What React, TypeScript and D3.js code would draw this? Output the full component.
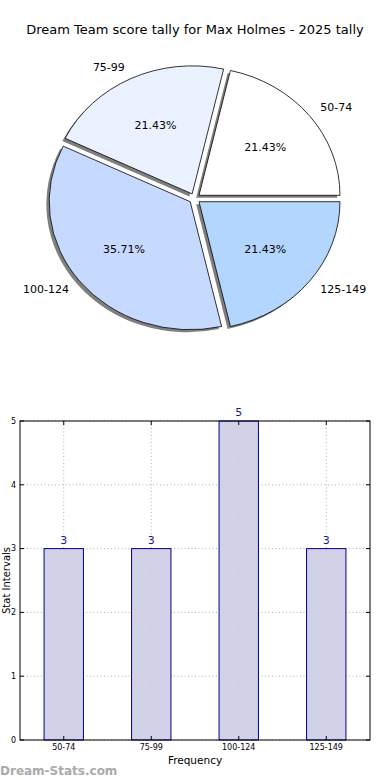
import React from 'react';
import * as d3 from 'd3';

const title = 'Dream Team score tally for Max Holmes - 2025 tally';
const categories = ['50-74', '75-99', '100-124', '125-149'];
const counts = [3, 3, 5, 3];
const sliceColors = ['#ffffff', '#ebf2ff', '#c6d9ff', '#b3d6ff'];
const yTicks = [0, 1, 2, 3, 4, 5];

const font = '"DejaVu Sans", sans-serif';

const App = () => {
  const width = 390;
  const height = 780;

  // pie: matplotlib-style, starts at 3 o'clock and goes counterclockwise,
  // axes not equal so it comes out as an ellipse
  const cx = 194.6;
  const cy = 198.5;
  const rx = 141;
  const ry = 128;
  const explode = 0.04;

  const total = d3.sum(counts);
  const pie = d3.pie<number>().sort(null).startAngle(Math.PI / 2).endAngle(Math.PI / 2 - 2 * Math.PI);
  const arcs = pie(counts);
  const arc = d3.arc<d3.PieArcDatum<number>>().innerRadius(0).outerRadius(1);

  // d3 angle -> unit vector (svg coords)
  const dir = (a: number) => [Math.sin(a), -Math.cos(a)];

  // bar chart
  const marginLeft = 20;
  const marginRight = 20;
  const plotTop = 421;
  const plotBottom = 740;

  const x = d3.scaleBand<string>()
    .domain(categories)
    .range([marginLeft, width - marginRight])
    .paddingInner(0.55)
    .paddingOuter(0.275);

  const y = d3.scaleLinear().domain([0, 5]).range([plotBottom, plotTop]);

  return (
    <svg width={width} height={height} style={{ position: 'absolute', left: 0, top: 0, background: '#fff' }}>
      <text x={195} y={34} textAnchor="middle" fontFamily={font} fontSize={13} fill="#000">{title}</text>

      {/* shadows */}
      <g transform={`translate(${cx},${cy}) scale(${rx},${ry})`}>
        {arcs.map((d, i) => {
          const m = (d.startAngle + d.endAngle) / 2;
          const [ux, uy] = dir(m);
          return (
            <path
              key={'s' + i}
              d={arc(d) ?? ''}
              transform={`translate(${ux * explode - 0.02},${uy * explode + 0.02})`}
              fill="#000"
              fillOpacity={0.5}
            />
          );
        })}
        {arcs.map((d, i) => {
          const m = (d.startAngle + d.endAngle) / 2;
          const [ux, uy] = dir(m);
          return (
            <path
              key={'p' + i}
              d={arc(d) ?? ''}
              transform={`translate(${ux * explode},${uy * explode})`}
              fill={sliceColors[i]}
              stroke="#000"
              strokeWidth={0.8}
              vectorEffect="non-scaling-stroke"
              strokeLinejoin="round"
            />
          );
        })}
      </g>

      {/* labels */}
      {arcs.map((d, i) => {
        const m = (d.startAngle + d.endAngle) / 2;
        const [ux, uy] = dir(m);
        const ox = cx + ux * explode * rx;
        const oy = cy + uy * explode * ry;
        const lx = ox + ux * 1.1 * rx;
        const ly = oy + uy * 1.1 * ry;
        const px = ox + ux * 0.6 * rx;
        const py = oy + uy * 0.6 * ry;
        return (
          <g key={'l' + i} fontFamily={font} fontSize={11} fill="#000">
            <text x={lx} y={ly} dy="0.35em" textAnchor={ux > 0 ? 'start' : 'end'}>{categories[i]}</text>
            <text x={px} y={py} dy="0.35em" textAnchor="middle">
              {((counts[i] / total) * 100).toFixed(2)}%
            </text>
          </g>
        );
      })}

      {/* bar chart grid */}
      <g stroke="#b0b0b0" strokeWidth={1} strokeDasharray="1,2.5">
        {yTicks.map(t => (
          <line key={'gy' + t} x1={marginLeft} x2={width - marginRight} y1={y(t)} y2={y(t)} />
        ))}
        {categories.map(c => {
          const xc = (x(c) ?? 0) + x.bandwidth() / 2;
          return <line key={'gx' + c} x1={xc} x2={xc} y1={plotTop} y2={plotBottom} />;
        })}
      </g>

      {/* bars */}
      {categories.map((c, i) => (
        <g key={'b' + c}>
          <rect
            x={x(c)}
            y={y(counts[i])}
            width={x.bandwidth()}
            height={y(0) - y(counts[i])}
            fill="#cccce6"
            fillOpacity={0.9}
            stroke="#00008b"
            strokeWidth={1}
          />
          <text
            x={(x(c) ?? 0) + x.bandwidth() / 2}
            y={y(counts[i]) - 5}
            textAnchor="middle"
            fontFamily={font}
            fontSize={11}
            fill="#1a1a8c"
          >
            {counts[i]}
          </text>
        </g>
      ))}

      {/* frame and ticks */}
      <rect x={marginLeft} y={plotTop} width={width - marginLeft - marginRight} height={plotBottom - plotTop} fill="none" stroke="#000" strokeWidth={1} />
      <g stroke="#000" strokeWidth={1}>
        {yTicks.map(t => (
          <g key={'ty' + t}>
            <line x1={marginLeft} x2={marginLeft + 4} y1={y(t)} y2={y(t)} />
            <line x1={width - marginRight - 4} x2={width - marginRight} y1={y(t)} y2={y(t)} />
          </g>
        ))}
        {categories.map(c => {
          const xc = (x(c) ?? 0) + x.bandwidth() / 2;
          return (
            <g key={'tx' + c}>
              <line x1={xc} x2={xc} y1={plotBottom} y2={plotBottom - 4} />
              <line x1={xc} x2={xc} y1={plotTop} y2={plotTop + 4} />
            </g>
          );
        })}
      </g>
      <g fontFamily={font} fontSize={8} fill="#000">
        {yTicks.map(t => (
          <text key={'yl' + t} x={marginLeft - 4} y={y(t)} dy="0.35em" textAnchor="end">{t}</text>
        ))}
        {categories.map(c => (
          <text key={'xl' + c} x={(x(c) ?? 0) + x.bandwidth() / 2} y={plotBottom + 10} textAnchor="middle">{c}</text>
        ))}
      </g>

      <text x={(marginLeft + width - marginRight) / 2} y={764} textAnchor="middle" fontFamily={font} fontSize={10.5} fill="#000">Frequency</text>
      <text transform={`translate(10,${(plotTop + plotBottom) / 2}) rotate(-90)`} textAnchor="middle" fontFamily={font} fontSize={10} fill="#000">Stat Intervals</text>

      <text x={0} y={775} fontFamily={font} fontSize={12} fontWeight="bold" fill="#aaaaaa">Dream-Stats.com</text>
    </svg>
  );
};

export default App;
